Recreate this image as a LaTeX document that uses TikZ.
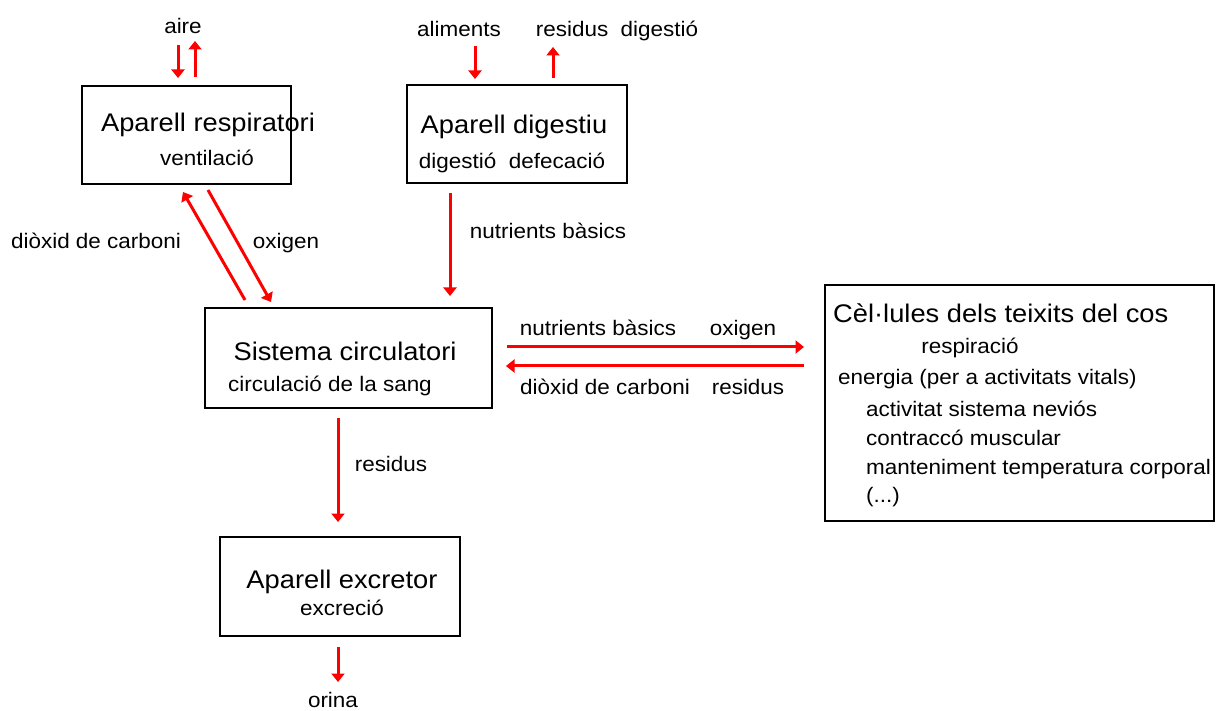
\documentclass[tikz,border=0pt]{standalone}
\usepackage{fontspec}
\setmainfont{Liberation Sans}[FakeStretch=1.07]
\usetikzlibrary{arrows.meta}
\begin{document}
\begin{tikzpicture}[x=1pt,y=-1pt,
  box/.style={draw=black,line width=1.5pt,inner sep=0pt},
  sm/.style={font=\fontsize{21}{24}\selectfont,inner sep=0pt,text height=16pt,text depth=4.5pt,yshift=-3pt},
  bg/.style={font=\fontsize{25.5}{30}\selectfont,inner sep=0pt,text height=19.5pt,text depth=5.5pt,yshift=-3pt},
  flow/.style={draw=red,line width=3pt,-{Triangle[length=8.5pt,width=13pt]}}]
\useasboundingbox (0,0) rectangle (1216,711);
% boxes
\node[box,minimum width=209pt,minimum height=98pt] (resp) at (186.5,135) {};
\node[box,minimum width=220pt,minimum height=98pt] (dig) at (517,134) {};
\node[box,minimum width=287pt,minimum height=100pt] (circ) at (348.5,358) {};
\node[box,minimum width=389pt,minimum height=236pt] (cel) at (1019.5,403) {};
\node[box,minimum width=240pt,minimum height=99pt] (exc) at (340,586.5) {};
% box texts
\node[bg] (t1) at (208,122) {Aparell respiratori};
\node[sm] (t2) at (207,157) {ventilació};
\node[bg] (t3) at (514,124) {Aparell digestiu};
\node[sm] (t4) at (512,160) {digestió\ \ defecació};
\node[bg] (t5) at (345,350) {Sistema circulatori};
\node[sm] (t6) at (330,383) {circulació de la sang};
\node[bg] (t7) at (342,578) {Aparell excretor};
\node[sm] (t8) at (342,607) {excreció};
\node[bg,anchor=west] (c1) at (833,313) {Cèl·lules dels teixits del cos};
\node[sm] (c2) at (970,345) {respiració};
\node[sm,anchor=west] (c3) at (838,376) {energia (per a activitats vitals)};
\node[sm,anchor=west] (c4) at (866,408) {activitat sistema neviós};
\node[sm,anchor=west] (c5) at (866,437) {contraccó muscular};
\node[sm,anchor=west] (c6) at (866,466) {manteniment temperatura corporal};
\node[sm,anchor=west] (c7) at (866,494) {(...)};
% labels
\node[sm] (aire) at (183,25) {aire};
\node[sm] (alim) at (459,28) {aliments};
\node[sm] (resd) at (617,28) {residus\ \ digestió};
\node[sm] (diox1) at (96,240) {diòxid de carboni};
\node[sm] (oxi1) at (286,240) {oxigen};
\node[sm] (nut1) at (548,230) {nutrients bàsics};
\node[sm] (nut2) at (598,327) {nutrients bàsics};
\node[sm] (oxi2) at (743,327) {oxigen};
\node[sm] (diox2) at (605,386) {diòxid de carboni};
\node[sm] (res2) at (748,386) {residus};
\node[sm] (res1) at (391,463) {residus};
\node[sm] (orina) at (333,699) {orina};
% arrow end points
\coordinate (a1s) at (178,45); \coordinate (a1e) at (178,78);
\coordinate (a2s) at (195,77); \coordinate (a2e) at (195,41);
\coordinate (a3s) at (475,46); \coordinate (a3e) at (475,79);
\coordinate (a4s) at (553,78); \coordinate (a4e) at (553,47);
\coordinate (a5s) at (245,300); \coordinate (a5e) at (183,192);
\coordinate (a6s) at (208,190); \coordinate (a6e) at (271,302);
\coordinate (a7s) at (450,193); \coordinate (a7e) at (450,296);
\coordinate (a8s) at (507,347); \coordinate (a8e) at (804,347);
\coordinate (a9s) at (804,366); \coordinate (a9e) at (506,366);
\coordinate (a10s) at (338,418); \coordinate (a10e) at (338,522);
\coordinate (a11s) at (338,647); \coordinate (a11e) at (338,682);
% arrows
\draw[flow] (a1s) -- (a1e);
\draw[flow] (a2s) -- (a2e);
\draw[flow] (a3s) -- (a3e);
\draw[flow] (a4s) -- (a4e);
\draw[flow] (a5s) -- (a5e);
\draw[flow] (a6s) -- (a6e);
\draw[flow] (a7s) -- (a7e);
\draw[flow] (a8s) -- (a8e);
\draw[flow] (a9s) -- (a9e);
\draw[flow] (a10s) -- (a10e);
\draw[flow] (a11s) -- (a11e);
\end{tikzpicture}
\end{document}
